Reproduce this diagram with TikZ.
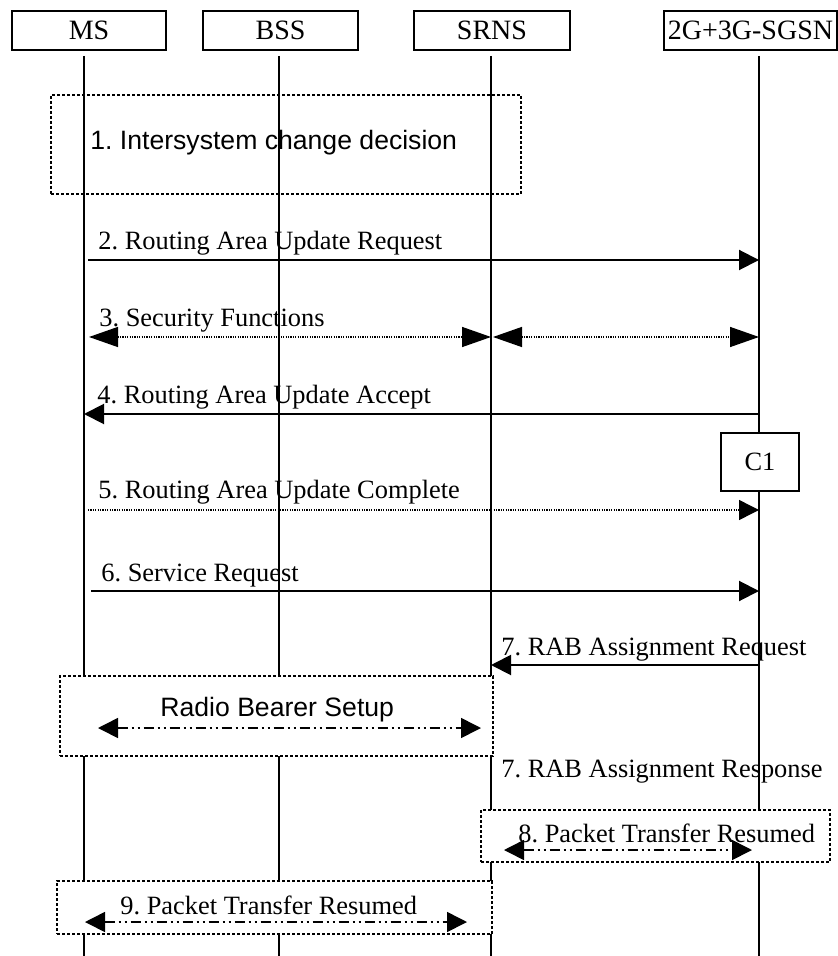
\documentclass[tikz,border=0pt]{standalone}
\usepackage{fontspec}
\setmainfont{Liberation Serif}
\newfontfamily\arialfont{Liberation Sans}
\usetikzlibrary{arrows.meta, calc}
\frenchspacing

\begin{document}
\begin{tikzpicture}[x=0.5pt, y=-0.5pt,
  hdr/.style={draw, line width=0.8pt, inner sep=0, minimum height=19.5pt, font=\fontsize{14}{16}\selectfont},
  lbl/.style={anchor=base west, inner sep=0, font=\fontsize{13.2}{15}\selectfont},
  sanslbl/.style={anchor=base west, inner sep=0, font=\arialfont\fontsize{13.3}{15}\selectfont},
  msg/.style={line width=1pt, -{Triangle[length=10pt, width=10pt]}},
  dotmsg/.style={line width=0.7pt, dash pattern=on 0.6pt off 0.6pt, -{Triangle[length=10pt, width=10pt]}},
  secmsg/.style={line width=0.7pt, dash pattern=on 0.6pt off 0.6pt,
    {Triangle[length=14.5pt, width=10pt]}-{Triangle[length=14.5pt, width=10pt]}},
  dashdot/.style={line width=0.8pt, dash pattern=on 5pt off 2pt on 1pt off 2pt on 1pt off 2pt,
    {Triangle[length=10pt, width=10pt]}-{Triangle[length=10pt, width=10pt]}},
  dotbox/.style={draw, line width=1.1pt, dash pattern=on 1.5pt off 1pt, inner sep=0},
]
  \useasboundingbox (0,0) rectangle (838,956);
  % entities
  \node[hdr, minimum width=77pt] (MS) at (89,30.5) {MS};
  \node[hdr, minimum width=77.5pt] (BSS) at (280.5,30.5) {BSS};
  \node[hdr, minimum width=78pt] (SRNS) at (492,30.5) {SRNS};
  \node[hdr, minimum width=86.5pt] (SGSN) at (750.5,30.5) {2G+3G-SGSN};
  % lifelines
  \foreach \n/\x in {ms/84, bss/279, srns/491, sgsn/759}{
    \coordinate (\n T) at (\x,56);
    \coordinate (\n B) at (\x,956);
    \draw[line width=0.6pt] (\n T) -- (\n B);
  }
  % 1. decision
  \node[dotbox, minimum width=235pt, minimum height=49.5pt] (decide) at (286,144.5) {};
  \node[sanslbl] (decideL) at (90,150) {1. Intersystem change decision};
  % 2. - 6.
  \draw[msg, shorten <=2pt] (msT |- 0,260) -- (sgsnT |- 0,260);
  \node[lbl] (l2) at (98,250) {2. Routing Area Update Request};
  \draw[secmsg, shorten <=2.5pt] (msT |- 0,337) -- (srnsT |- 0,337);
  \draw[secmsg, shorten <=1pt] (srnsT |- 0,337) -- (sgsnT |- 0,337);
  \node[lbl] (l3) at (99,327) {3. Security Functions};
  \draw[msg] (sgsnT |- 0,414) -- (msT |- 0,414);
  \node[lbl] (l4) at (97,403) {4. Routing Area Update Accept};
  \node[draw, line width=0.8pt, fill=white, inner sep=0, minimum width=39pt, minimum height=29pt,
    font=\fontsize{13.2}{15}\selectfont] (C1) at (760,462) {C1};
  \draw[dotmsg, shorten <=2pt] (msT |- 0,510) -- (sgsnT |- 0,510);
  \node[lbl] (l5) at (98,498) {5. Routing Area Update Complete};
  \draw[msg, shorten <=3.5pt] (msT |- 0,591) -- (sgsnT |- 0,591);
  \node[lbl] (l6) at (101,581) {6. Service Request};
  % 7. RAB assignment
  \draw[msg] (sgsnT |- 0,665) -- (srnsT |- 0,665);
  \node[lbl] (l7a) at (501,655) {7. RAB Assignment Request};
  \node[dotbox, fill=white, minimum width=216.5pt, minimum height=40pt] (rbs) at (276.5,716) {};
  \node[sanslbl] (rbsL) at (160,716) {Radio Bearer Setup};
  \draw[dashdot, shorten <=7pt, shorten >=5pt] (msT |- 0,728) -- (srnsT |- 0,728);
  \node[lbl] (l7b) at (501,777) {7. RAB Assignment Response};
  % 8. / 9. resume
  \node[dotbox, fill=white, minimum width=174.5pt, minimum height=26pt] (res8) at (655.5,836) {};
  \node[lbl] (l8) at (518,842) {8. Packet Transfer Resumed};
  \draw[dashdot, shorten <=6.5pt, shorten >=3.5pt] (srnsT |- 0,850) -- (sgsnT |- 0,850);
  \node[dotbox, fill=white, minimum width=217.5pt, minimum height=26.5pt] (res9) at (274.5,907.5) {};
  \node[lbl] (l9) at (120,914) {9. Packet Transfer Resumed};
  \draw[dashdot, shorten <=0.5pt, shorten >=12pt] (msT |- 0,922) -- (srnsT |- 0,922);
\end{tikzpicture}
\end{document}
